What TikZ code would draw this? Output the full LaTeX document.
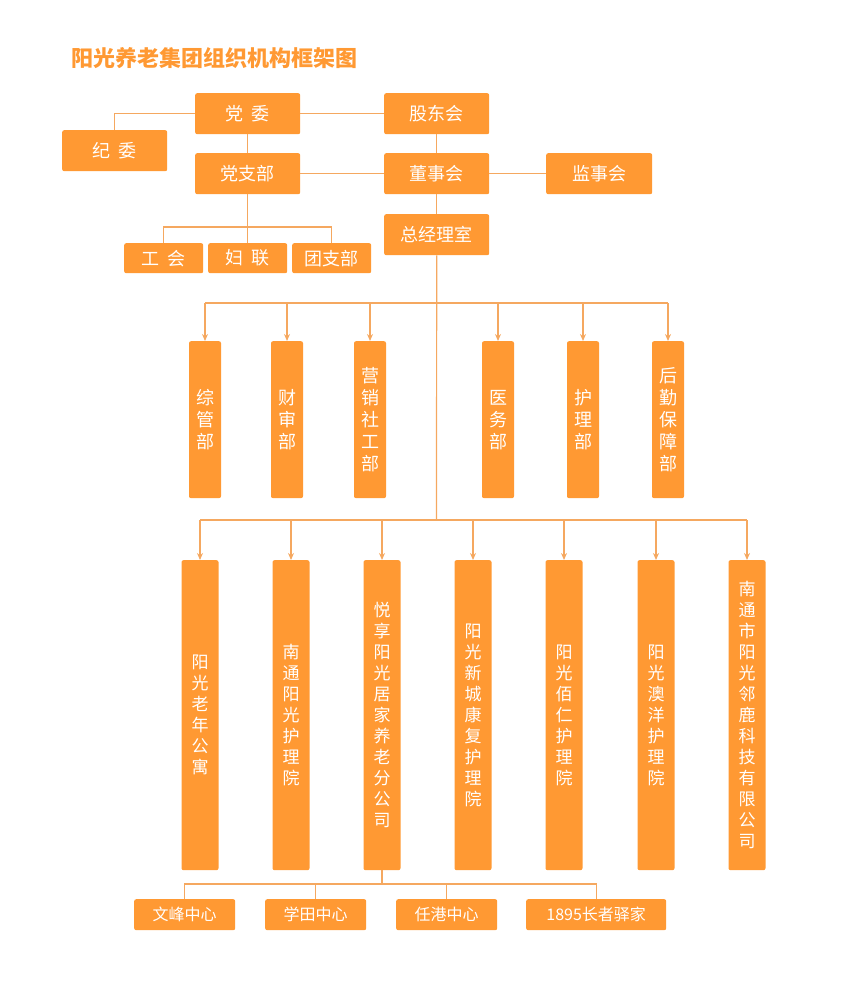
\documentclass[tikz,border=0pt]{standalone}
\usepackage{fontspec}
\newfontfamily\cjk{Noto Sans CJK SC}
\usetikzlibrary{arrows.meta}
\definecolor{box}{HTML}{FF9933}
\definecolor{ln}{HTML}{F5A860}
\begin{document}
\begin{tikzpicture}[x=1pt,y=-1pt,
 bx/.style={fill=box,draw=none,rounded corners=2pt,text=white,font=\cjk\fontsize{18}{20}\selectfont,inner sep=0pt,anchor=north west},
 lk/.style={draw=ln,line width=1.2pt},
 ar/.style={lk,-{Stealth[length=7pt,width=6pt]}}]
\useasboundingbox (0,0) rectangle (851,995);
\node[anchor=west,text=box,font=\cjk\bfseries\fontsize{22}{24}\selectfont] (title) at (68,58) {阳光养老集团组织机构框架图};
\newcommand\topbox[6]{\node[bx,minimum width=#4,minimum height=#5] (#1) at (#2,#3) {#6};}
\topbox{dw}{195}{93}{105}{41}{党\ \ 委}
\topbox{gd}{384}{93}{105}{41}{股东会}
\topbox{jw}{62}{130}{105}{41}{纪\ \ 委}
\topbox{dzb}{195}{153}{105}{41}{党支部}
\topbox{dsh}{384}{153}{105}{41}{董事会}
\topbox{jsh}{546}{153}{106}{41}{监事会}
\topbox{zjl}{384}{214}{105}{41}{总经理室}
\topbox{gh}{124}{243}{79}{30}{工\ \ 会}
\topbox{fl}{208}{243}{79}{30}{妇\ \ 联}
\topbox{tzb}{292}{243}{79}{30}{团支部}
\newcommand\deptbox[3]{\node[bx,minimum width=32,minimum height=157,align=center,font=\cjk\fontsize{18}{22}\selectfont,anchor=north] (#1) at (#2,341) {#3};}
\deptbox{d1}{205}{综\\管\\部}
\deptbox{d2}{287}{财\\审\\部}
\deptbox{d3}{370}{营\\销\\社\\工\\部}
\deptbox{d4}{498}{医\\务\\部}
\deptbox{d5}{583}{护\\理\\部}
\deptbox{d6}{668}{后\\勤\\保\\障\\部}
\newcommand\subbox[3]{\node[bx,minimum width=37,minimum height=310,align=center,font=\cjk\fontsize{17}{21}\selectfont,anchor=north] (#1) at (#2,560) {#3};}
\subbox{s1}{200}{阳\\光\\老\\年\\公\\寓}
\subbox{s2}{291}{南\\通\\阳\\光\\护\\理\\院}
\subbox{s3}{382}{悦\\享\\阳\\光\\居\\家\\养\\老\\分\\公\\司}
\subbox{s4}{473}{阳\\光\\新\\城\\康\\复\\护\\理\\院}
\subbox{s5}{564}{阳\\光\\佰\\仁\\护\\理\\院}
\subbox{s6}{656}{阳\\光\\澳\\洋\\护\\理\\院}
\subbox{s7}{747}{南\\通\\市\\阳\\光\\邻\\鹿\\科\\技\\有\\限\\公\\司}
\newcommand\botbox[4]{\node[bx,minimum width=#3,minimum height=31,font=\cjk\fontsize{16}{18}\selectfont] (#1) at (#2,899) {#4};}
\botbox{b1}{134}{101}{文峰中心}
\botbox{b2}{265}{101}{学田中心}
\botbox{b3}{396}{101}{任港中心}
\botbox{b4}{526}{140}{1895长者驿家}
% links
\draw[lk] (dw) -- (gd);
\draw[lk] (dw.west) -| (jw.north);
\draw[lk] (dw) -- (dzb);
\draw[lk] (gd) -- (dsh);
\draw[lk] (dzb) -- (dsh);
\draw[lk] (dsh) -- (jsh);
\draw[lk] (dsh) -- (zjl);
\coordinate (p1) at (247.5,227);
\draw[lk] (dzb.south) -- (fl.north);
\draw[lk] (gh.north) |- (p1) -| (tzb.north);
\coordinate (h1) at (436.5,303);
\coordinate (h2) at (436.5,520);
\draw[lk] (zjl.south) -- (h2);
\draw[lk] (d1.north|-h1) -- (d6.north|-h1);
\foreach \d in {d1,d2,d3,d4,d5,d6} \draw[ar] (\d.north|-h1) -- (\d.north);
\draw[lk] (s1.north|-h2) -- (s7.north|-h2);
\foreach \s in {s1,s2,s3,s4,s5,s6,s7} \draw[ar] (\s.north|-h2) -- (\s.north);
\coordinate (h3) at (382,884);
\draw[lk] (s3.south) -- (h3);
\draw[lk] (b1.north) |- (h3) -| (b4.north);
\draw[lk] (b2.north) -- (b2.north|-h3);
\draw[lk] (b3.north) -- (b3.north|-h3);
\end{tikzpicture}
\end{document}
